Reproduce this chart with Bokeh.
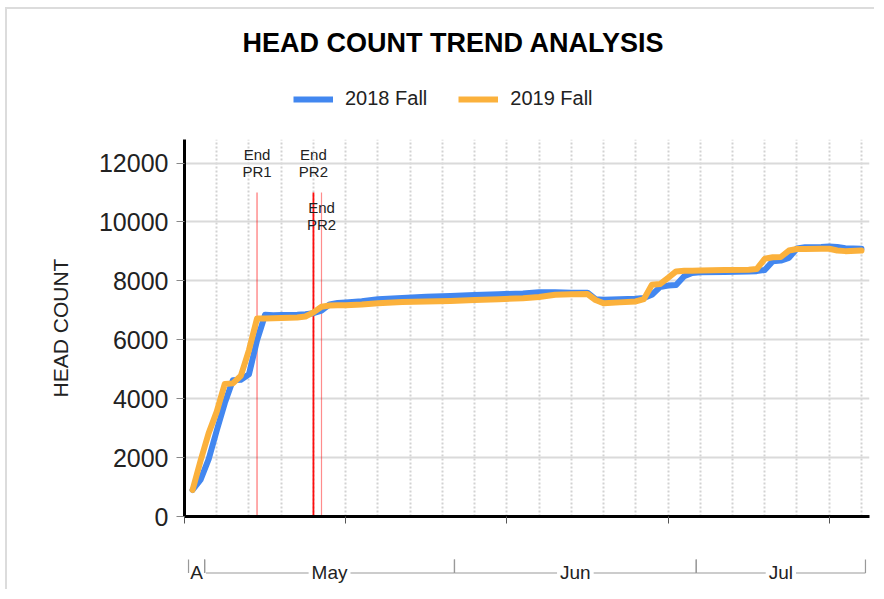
import pandas as pd
from bokeh.plotting import figure
from bokeh.models import (Range1d, FixedTicker, Label, Legend, LegendItem, ColumnDataSource,
                          CustomJSTickFormatter)
from bokeh.layouts import column
from bokeh.embed import file_html
from bokeh.resources import INLINE
from bokeh.core.properties import value

# ---------------- data ----------------
dates = ["2019-04-29", "2019-04-30", "2019-05-01", "2019-05-02", "2019-05-03", "2019-05-04",
         "2019-05-05", "2019-05-06", "2019-05-07", "2019-05-08", "2019-05-09", "2019-05-10",
         "2019-05-11", "2019-05-12", "2019-05-13", "2019-05-14", "2019-05-15", "2019-05-16",
         "2019-05-17", "2019-05-18", "2019-05-20", "2019-05-22", "2019-05-25", "2019-05-28",
         "2019-05-31", "2019-06-03", "2019-06-06", "2019-06-09", "2019-06-11", "2019-06-13",
         "2019-06-15", "2019-06-17", "2019-06-18", "2019-06-19", "2019-06-21", "2019-06-23",
         "2019-06-24", "2019-06-25", "2019-06-26", "2019-06-27", "2019-06-28", "2019-06-29",
         "2019-06-30", "2019-07-01", "2019-07-04", "2019-07-07", "2019-07-08", "2019-07-09",
         "2019-07-10", "2019-07-11", "2019-07-12", "2019-07-13", "2019-07-14", "2019-07-16",
         "2019-07-17", "2019-07-18", "2019-07-19", "2019-07-21"]
fall_2018 = [900, 1250, 1950, 2920, 3850, 4630,
             4640, 4830, 5980, 6850, 6830, 6840,
             6845, 6850, 6870, 6900, 6990, 7200,
             7250, 7270, 7310, 7380, 7420, 7460,
             7490, 7520, 7550, 7570, 7615, 7610,
             7600, 7600, 7380, 7360, 7380, 7390,
             7420, 7530, 7790, 7840, 7860, 8160,
             8270, 8290, 8300, 8320, 8330, 8370,
             8670, 8690, 8780, 9100, 9140, 9150,
             9165, 9150, 9110, 9090]
fall_2019 = [900, 1900, 2830, 3560, 4500, 4520,
             4780, 5650, 6720, 6720, 6730, 6740,
             6750, 6760, 6790, 6930, 7120, 7165,
             7170, 7175, 7200, 7240, 7280, 7300,
             7320, 7350, 7380, 7410, 7450, 7530,
             7550, 7555, 7350, 7240, 7270, 7300,
             7380, 7870, 7890, 8100, 8320, 8340,
             8345, 8350, 8370, 8380, 8400, 8750,
             8800, 8810, 9030, 9080, 9085, 9090,
             9090, 9030, 9010, 9030]
series_names = ["2018 Fall", "2019 Fall"]

y_ticks = [0, 2000, 4000, 6000, 8000, 10000, 12000]
x_axis_start = "2019-04-28"
x_axis_end = "2019-07-22"

pr_dates = ["2019-05-07", "2019-05-14", "2019-05-15"]
pr_labels = ["End\nPR1", "End\nPR2", "End\nPR2"]
pr_top = 11000
month_labels = ["A", "May", "Jun", "Jul"]

title_text = "HEAD COUNT TREND ANALYSIS"
y_title = "HEAD COUNT"

# ---------------- styles ----------------
BLUE = "#4287F0"
ORANGE = "#FBB13C"
FONT = "Liberation Sans"
TXT = "#222222"
pr_alpha = [0.55, 0.95, 0.45]
pr_width = [1.2, 1.8, 1.2]
pr_label_above = [True, True, False]

EPOCH = pd.Timestamp("1970-01-01")
MS = pd.Timedelta(milliseconds=1)


def to_ms(idx):
    return [float((t - EPOCH) / MS) for t in pd.DatetimeIndex(idx)]


X0, T0 = 7, 9             # content origin on page (inside the card border)
FL, FR = 184, 869         # frame left / right on page
W = FR + 7 - X0
HDR_H = 139 - T0
MAIN_H = 407
BR_H = 45
MBL = FL - X0
MBR = X0 + W - FR

dt = pd.to_datetime(dates)
xs = to_ms(dt)
x_start = pd.Timestamp(x_axis_start)
x_end = pd.Timestamp(x_axis_end)
x_range = Range1d(start=to_ms([x_start])[0], end=to_ms([x_end])[0])

# ---------------- header (title + legend) ----------------
hdr = figure(width=W, height=HDR_H, x_range=Range1d(FL, FR), y_range=Range1d(T0 + HDR_H, T0),
             min_border_left=MBL, min_border_right=MBR, min_border_top=0, min_border_bottom=0,
             x_axis_location=None, y_axis_location=None,
             toolbar_location=None, output_backend="svg", outline_line_color=None)
hdr.xgrid.visible = False
hdr.ygrid.visible = False
hdr.text(x=[453], y=[42], text=[title_text], text_align="center", text_baseline="middle",
         text_font=value(FONT), text_font_size="27px", text_font_style="bold", text_color="#000000")
# legend keys (points placed outside the visible header range)
r18 = hdr.line(x=[-50, -40], y=[-50, -50], line_color=BLUE, line_width=6)
r19 = hdr.line(x=[-50, -40], y=[-50, -50], line_color=ORANGE, line_width=6)
legend = Legend(items=[LegendItem(label=series_names[0], renderers=[r18]),
                       LegendItem(label=series_names[1], renderers=[r19])],
                orientation="horizontal", location=(293 - FL, 29), padding=0, margin=0,
                spacing=31, glyph_width=40, glyph_height=20, label_height=20, label_standoff=12,
                label_text_font=FONT, label_text_font_size="20px", label_text_color=TXT,
                border_line_color=None, background_fill_alpha=0)
hdr.add_layout(legend)

# ---------------- main chart ----------------
p = figure(width=W, height=MAIN_H, x_range=x_range, y_range=Range1d(0, 12800),
           x_axis_type="datetime", toolbar_location=None, output_backend="svg",
           min_border_left=MBL, min_border_right=MBR, min_border_top=0,
           min_border_bottom=30, outline_line_color=None)

major = pd.date_range(x_start, x_end, freq="20D")
minor = pd.date_range(x_start, x_end, freq="4D")
p.xaxis.ticker = FixedTicker(ticks=to_ms(major))
p.xaxis.formatter = CustomJSTickFormatter(code="return ''")
p.xaxis.major_label_standoff = 0
p.xaxis.axis_line_width = 3
p.xaxis.axis_line_color = "#000000"
p.xaxis.major_tick_line_color = "#555555"
p.xaxis.major_tick_out = 7
p.xaxis.major_tick_in = 0
p.xaxis.minor_tick_line_color = None

p.yaxis.ticker = FixedTicker(ticks=y_ticks)
p.yaxis.axis_line_width = 3
p.yaxis.axis_line_color = "#000000"
p.yaxis.major_tick_line_color = "#888888"
p.yaxis.major_tick_out = 8
p.yaxis.major_tick_in = 0
p.yaxis.minor_tick_line_color = None
p.yaxis.major_label_text_font = FONT
p.yaxis.major_label_text_font_size = "25px"
p.yaxis.major_label_text_color = TXT
p.yaxis.major_label_standoff = 8
p.yaxis.axis_label = y_title
p.yaxis.axis_label_text_font = FONT
p.yaxis.axis_label_text_font_size = "21px"
p.yaxis.axis_label_text_font_style = "normal"
p.yaxis.axis_label_text_color = TXT
p.yaxis.axis_label_standoff = 24

p.xgrid.ticker = FixedTicker(ticks=to_ms(minor))
p.xgrid.grid_line_color = "#d2d2d2"
p.xgrid.grid_line_width = 2
p.xgrid.grid_line_dash = "2 2"
p.ygrid.grid_line_color = "#dadada"
p.ygrid.grid_line_width = 2

pr_x = to_ms(pd.to_datetime(pr_dates))
p.segment(x0=pr_x, y0=[0] * len(pr_x), x1=pr_x, y1=[pr_top] * len(pr_x),
          line_color="#ff0000", line_alpha=pr_alpha, line_width=pr_width)

src = ColumnDataSource(dict(x=xs, y18=fall_2018, y19=fall_2019))
p.line("x", "y18", source=src, line_color=BLUE, line_width=6, line_join="round", line_cap="round")
p.line("x", "y19", source=src, line_color=ORANGE, line_width=6, line_join="round", line_cap="round")

for x, t, above in zip(pr_x, pr_labels, pr_label_above):
    p.add_layout(Label(x=x, y=pr_top, text=t, text_align="center",
                       text_baseline="bottom" if above else "top",
                       y_offset=13 if above else -6, text_line_height=1.0,
                       text_font=FONT, text_font_size="15px", text_color=TXT))

# ---------------- month brackets ----------------
BR_TOP = T0 + HDR_H + MAIN_H
b = figure(width=W, height=BR_H, x_range=x_range, y_range=Range1d(BR_TOP + BR_H, BR_TOP),
           min_border_left=MBL, min_border_right=MBR, min_border_top=0,
           min_border_bottom=0, x_axis_location=None, y_axis_location=None,
           toolbar_location=None, output_backend="svg", outline_line_color=None)
b.xgrid.visible = False
b.ygrid.visible = False

all_days = pd.date_range(dt.min(), dt.max(), freq="D")
half = pd.Timedelta(hours=12)
br_start, br_end = [], []
for per in sorted(set(all_days.to_period("M"))):
    days_in = all_days[all_days.to_period("M") == per]
    br_start.append(days_in[0] - half)
    br_end.append(days_in[-1] + half)
bs = to_ms(br_start)
be = to_ms(br_end)
bm = [(a + c) / 2 for a, c in zip(bs, be)]
LINE_Y, TICK_TOP, TXT_Y = 572.5, 559, 571.5

b.segment(x0=bs, y0=[LINE_Y] * len(bs), x1=be, y1=[LINE_Y] * len(bs),
          line_color="#999999", line_width=1)
b.text(x=bm, y=[TXT_Y] * len(bm), text=month_labels, text_align="center",
       text_baseline="middle", text_font=value(FONT), text_font_size="19px",
       text_color=TXT, background_fill_color="white", padding=3)
b.segment(x0=bs, y0=[TICK_TOP] * len(bs), x1=bs, y1=[LINE_Y] * len(bs),
          line_color="#999999", line_width=1.2)
b.segment(x0=be, y0=[TICK_TOP] * len(be), x1=be, y1=[LINE_Y] * len(be),
          line_color="#999999", line_width=1.2)

layout = column(hdr, p, b, spacing=0, margin=(T0, 0, 0, X0),
                styles={"box-shadow": "-2px -2px 0 0 #dcdcdc"})

open("out.html", "w").write(file_html(layout, INLINE))
